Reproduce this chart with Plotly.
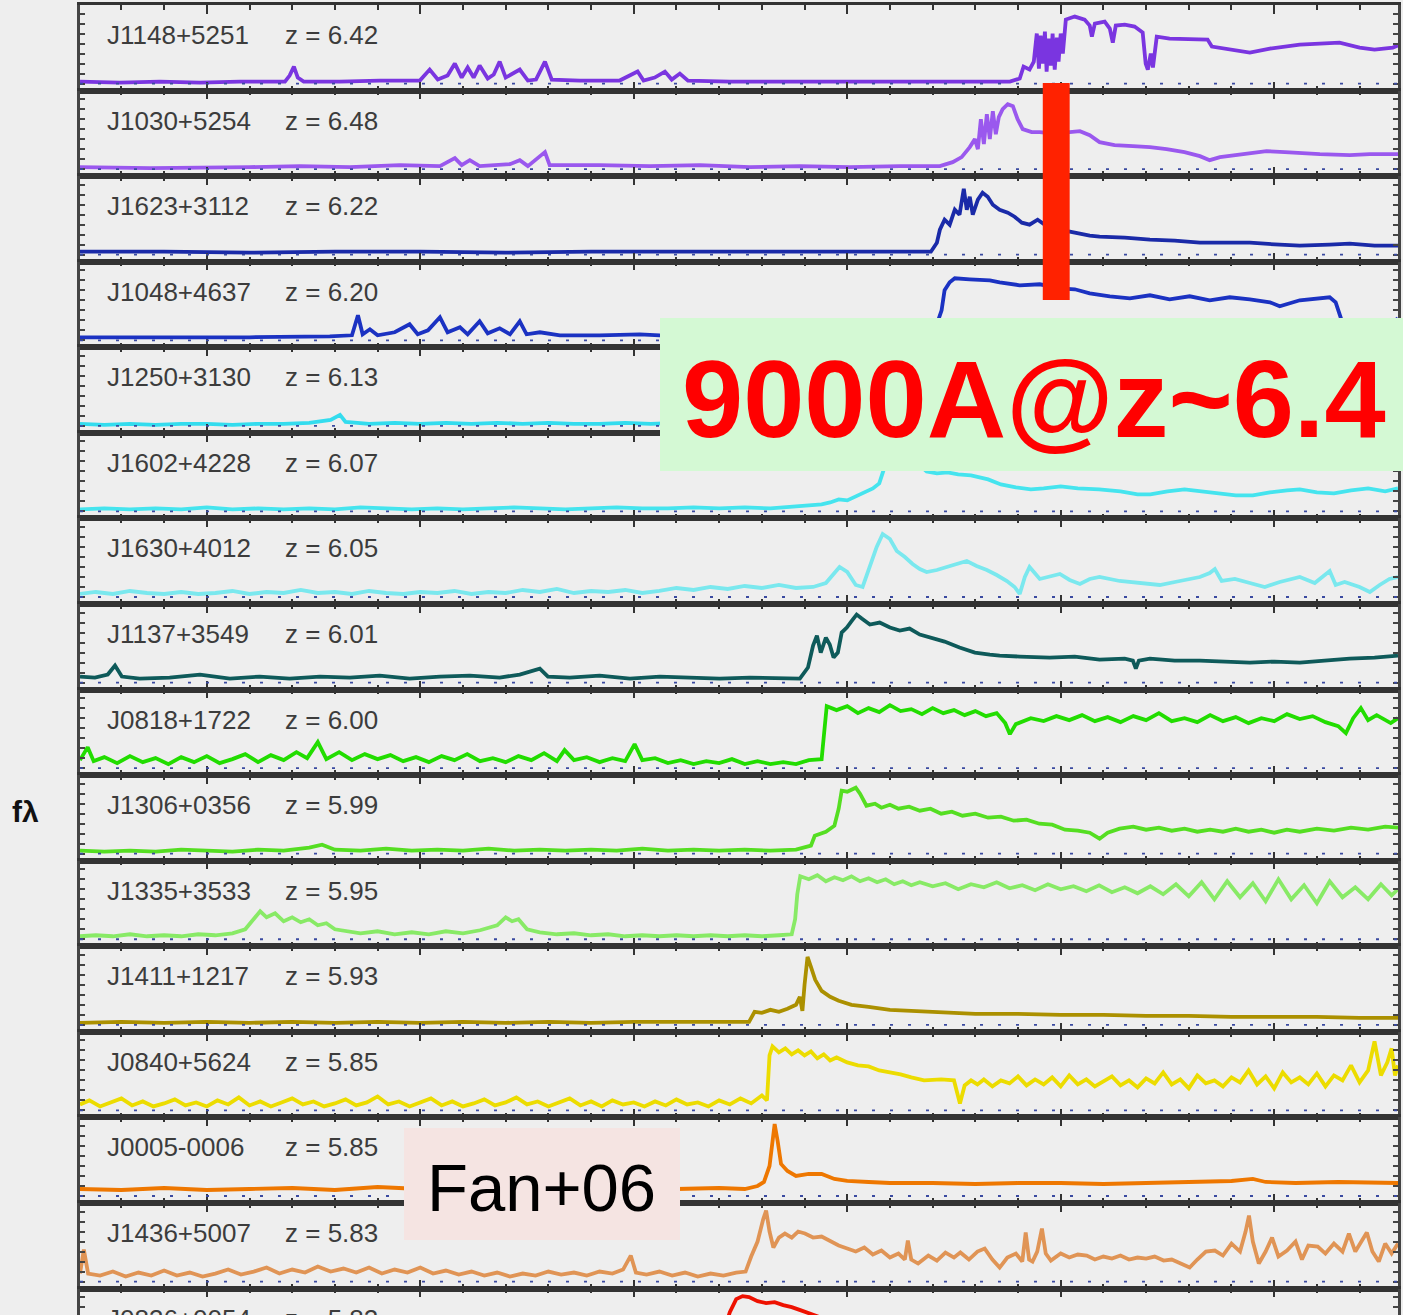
import plotly.graph_objects as go

# ---------------- data ----------------
NAMES = ["J1148+5251", "J1030+5254", "J1623+3112", "J1048+4637", "J1250+3130",
         "J1602+4228", "J1630+4012", "J1137+3549", "J0818+1722", "J1306+0356",
         "J1335+3533", "J1411+1217", "J0840+5624", "J0005-0006", "J1436+5007",
         "J0836+0054"]
REDSHIFTS = ["6.42", "6.48", "6.22", "6.20", "6.13", "6.07", "6.05", "6.01", "6.00",
             "5.99", "5.95", "5.93", "5.85", "5.85", "5.83", "5.82"]
COLORS = ["#7a35e0", "#9a58ee", "#1a2aa8", "#1b32c2", "#33dcee", "#45e4ee", "#7ae8ee",
          "#0e5a5a", "#22dd00", "#55de22", "#88ea66", "#ab9000", "#ecdc00", "#ee7700",
          "#e09455", "#ee1100"]

SPEC_J1148 = [(6703,2),(6796,1),(6890,2),(6984,1),(7077,2),(7183,2),(7194,8),(7204,17),(7213,6),(7227,2),
              (7311,2),(7405,3),(7499,3),(7522,14),(7541,4),(7564,8),(7581,20),(7597,6),(7611,16),(7625,6),
              (7639,18),(7658,5),(7672,9),(7686,22),(7700,6),(7719,10),(7733,14),(7752,3),(7771,4),(7792,22),
              (7808,4),(7874,3),(7967,3),(8009,12),(8023,3),(8049,6),(8073,12),(8089,4),(8108,10),(8127,3),
              (8225,2),(8389,2),(8576,2),(8740,2),(8881,2),(8904,5),(8913,17),(8927,14),(8937,22),(8944,50),
              (8949,15),(8953,48),(8958,20),(8963,52),(8967,12),(8972,45),(8977,18),(8981,50),(8986,14),(8991,46),
              (8995,22),(9000,50),(9005,30),(9012,64),(9033,67),(9056,64),(9068,58),(9073,47),(9080,60),(9103,62),
              (9115,55),(9122,41),(9129,58),(9150,59),(9173,57),(9192,51),(9199,20),(9204,14),(9211,30),(9216,16),
              (9225,47),(9255,45),(9302,44),(9344,44),(9354,37),(9396,34),(9443,31),(9490,35),(9560,39),(9607,40),
              (9653,41),(9700,36),(9735,34),(9778,36),(9790,38)]
SPEC_J1030 = [(6703,2),(6867,1),(7101,2),(7218,3),(7335,2),(7452,4),(7546,3),(7581,11),(7597,4),(7616,9),
              (7639,3),(7710,5),(7733,9),(7752,3),(7792,17),(7803,4),(7920,4),(8038,3),(8155,4),(8272,2),
              (8389,3),(8506,2),(8623,3),(8717,3),(8747,7),(8768,12),(8787,22),(8799,30),(8806,20),(8813,50),
              (8820,25),(8827,55),(8834,30),(8841,58),(8848,35),(8855,52),(8864,60),(8876,65),(8888,63),(8899,50),
              (8911,40),(8932,37),(8951,37),(8974,36),(8998,37),(9021,37),(9045,38),(9068,34),(9091,27),(9126,24),
              (9169,23),(9209,22),(9248,20),(9290,17),(9326,13),(9349,9),(9373,12),(9408,14),(9443,16),(9482,18),
              (9525,17),(9560,16),(9607,15),(9677,14),(9724,15),(9790,15)]
SPEC_J1623 = [(6703,3),(6900,3),(7100,2),(7300,3),(7500,3),(7700,2),(7900,3),(8100,3),(8300,3),(8500,3),
              (8696,3),(8710,12),(8717,25),(8728,35),(8740,30),(8752,45),(8763,40),(8773,66),(8780,45),(8787,58),
              (8794,40),(8806,55),(8817,62),(8829,58),(8841,50),(8857,45),(8876,42),(8892,38),(8909,32),(8927,30),
              (8946,35),(8963,30),(8998,25),(9033,22),(9068,19),(9091,18),(9150,17),(9209,15),(9267,14),(9326,12),
              (9443,12),(9513,10),(9560,9),(9630,10),(9677,11),(9735,9),(9790,9)]
SPEC_J1048 = [(6703,3),(6870,3),(7100,3),(7288,4),(7340,5),(7354,25),(7365,6),(7382,11),(7400,5),(7440,8),
              (7475,16),(7494,6),(7518,10),(7546,23),(7564,8),(7593,13),(7611,6),(7639,19),(7658,7),(7686,12),
              (7710,6),(7733,19),(7749,6),(7780,8),(7827,5),(7920,5),(8014,6),(8061,5),(8155,4),(8389,4),
              (8576,4),(8670,5),(8705,10),(8721,30),(8728,50),(8740,58),(8752,62),(8787,61),(8834,60),(8857,58),
              (8904,55),(8951,56),(8998,52),(9033,51),(9068,47),(9115,44),(9162,42),(9209,45),(9255,41),(9302,44),
              (9349,40),(9396,43),(9443,41),(9490,38),(9513,34),(9560,40),(9607,42),(9630,43),(9644,38),(9658,20),
              (9677,8),(9724,10),(9770,15),(9790,22)]
SPEC_J1250 = [(6703,2),(6760,1),(6820,2),(6880,1),(6940,2),(7000,2),(7060,1),(7120,2),(7180,2),(7240,3),
              (7290,6),(7312,11),(7325,4),(7380,2),(7440,3),(7500,2),(7560,3),(7620,2),(7680,3),(7740,2),
              (7800,3),(7860,2),(7920,2),(7980,3),(8040,2),(8100,3),(8200,3),(8300,4),(8400,4),(8500,5),
              (8600,8),(8650,20),(8680,55),(8700,60),(8750,48),(8800,40),(8900,35),(9000,30),(9200,27),(9400,25),
              (9600,26),(9790,25)]
SPEC_J1602 = [(6703,2),(6760,3),(6820,2),(6880,3),(6940,2),(7000,4),(7060,2),(7120,3),(7180,2),(7240,3),
              (7300,2),(7360,4),(7420,3),(7480,2),(7540,3),(7600,2),(7660,3),(7720,4),(7780,3),(7840,2),
              (7900,3),(7960,4),(8020,3),(8080,3),(8140,4),(8200,3),(8260,4),(8320,3),(8380,5),(8420,6),
              (8440,7),(8460,9),(8480,12),(8500,11),(8520,15),(8540,18),(8560,23),(8575,28),(8588,45),(8600,65),
              (8615,70),(8635,60),(8660,50),(8686,40),(8710,38),(8735,39),(8760,37),(8790,36),(8830,32),(8860,27),
              (8895,24),(8930,22),(8960,23),(9000,25),(9040,23),(9090,22),(9140,20),(9180,17),(9210,17),(9250,20),
              (9290,22),(9330,20),(9370,18),(9410,16),(9450,16),(9490,19),(9530,21),(9560,22),(9600,19),(9640,18),
              (9680,21),(9720,23),(9760,20),(9790,23)]
SPEC_J1630 = [(6703,3),(6740,5),(6780,3),(6820,6),(6860,4),(6900,3),(6940,5),(6980,3),(7020,4),(7060,6),
              (7100,3),(7140,5),(7180,4),(7220,7),(7260,4),(7300,5),(7340,3),(7380,6),(7420,4),(7460,3),
              (7500,5),(7540,4),(7580,6),(7620,3),(7660,5),(7700,4),(7740,7),(7780,5),(7820,8),(7860,4),
              (7900,6),(7940,5),(7980,7),(8020,4),(8060,6),(8100,9),(8140,7),(8180,10),(8220,8),(8260,11),
              (8300,9),(8340,12),(8380,9),(8420,10),(8450,14),(8482,30),(8500,25),(8520,12),(8536,10),(8553,30),
              (8569,50),(8583,63),(8600,58),(8616,46),(8635,40),(8653,33),(8670,28),(8686,25),(8710,27),(8733,30),
              (8756,33),(8780,36),(8803,31),(8827,27),(8850,22),(8874,16),(8892,10),(8904,3),(8916,20),(8927,30),
              (8951,18),(8974,20),(8998,23),(9021,17),(9045,13),(9068,18),(9091,20),(9138,16),(9185,14),(9232,12),
              (9279,16),(9326,20),(9349,24),(9361,28),(9377,16),(9408,18),(9443,14),(9478,10),(9513,15),(9560,20),
              (9595,14),(9630,26),(9644,12),(9665,15),(9700,10),(9724,5),(9747,12),(9770,18),(9790,20)]
SPEC_J1137 = [(6703,6),(6738,5),(6768,8),(6785,17),(6801,6),(6843,4),(6913,5),(6984,8),(7054,4),(7124,6),
              (7194,4),(7265,6),(7335,5),(7405,7),(7475,4),(7546,6),(7616,7),(7686,5),(7733,8),(7780,14),
              (7799,6),(7850,5),(7920,7),(7991,4),(8061,6),(8131,5),(8201,4),(8272,5),(8342,4),(8389,4),
              (8408,15),(8420,37),(8429,47),(8438,30),(8450,45),(8459,38),(8468,25),(8478,30),(8487,50),(8499,55),
              (8511,62),(8522,68),(8534,64),(8553,58),(8576,60),(8600,55),(8623,52),(8646,54),(8670,48),(8693,45),
              (8728,41),(8763,35),(8799,30),(8834,28),(8857,27),(8904,26),(8974,25),(9033,26),(9091,23),(9150,24),
              (9169,22),(9176,14),(9183,22),(9209,24),(9267,22),(9326,22),(9384,21),(9443,20),(9501,21),(9560,20),
              (9618,22),(9677,24),(9735,25),(9790,27)]
SPEC_J0818 = [(6703,8),(6721,21),(6735,7),(6760,11),(6790,5),(6820,12),(6850,6),(6880,10),(6910,4),(6940,11),
              (6970,6),(7000,12),(7030,5),(7060,9),(7090,14),(7120,6),(7150,13),(7180,8),(7210,16),(7235,10),
              (7260,26),(7280,9),(7310,16),(7340,8),(7370,14),(7400,9),(7430,13),(7460,7),(7490,11),(7520,6),
              (7550,12),(7580,8),(7610,14),(7640,7),(7670,10),(7700,6),(7730,12),(7760,8),(7790,15),(7820,7),
              (7838,18),(7860,8),(7890,11),(7920,6),(7950,10),(7980,7),(8002,24),(8020,8),(8050,10),(8080,5),
              (8110,8),(8140,4),(8170,7),(8200,5),(8230,9),(8260,4),(8290,7),(8320,4),(8350,6),(8380,4),
              (8410,8),(8440,9),(8447,40),(8452,62),(8475,58),(8500,62),(8525,55),(8550,60),(8575,56),(8600,63),
              (8625,57),(8650,59),(8675,54),(8700,60),(8725,55),(8750,58),(8775,53),(8800,57),(8825,52),(8850,55),
              (8870,45),(8881,34),(8895,44),(8930,50),(8960,47),(8990,52),(9020,48),(9050,53),(9080,47),(9110,51),
              (9140,46),(9170,52),(9200,48),(9230,55),(9260,47),(9290,50),(9320,46),(9350,53),(9380,47),(9410,51),
              (9440,45),(9470,50),(9500,47),(9530,54),(9560,49),(9590,52),(9620,46),(9650,42),(9668,35),(9685,50),
              (9703,60),(9720,48),(9740,53),(9773,45),(9790,50)]
SPEC_J1306 = [(6703,3),(6760,2),(6820,3),(6880,2),(6940,4),(7000,3),(7060,2),(7120,4),(7180,3),(7240,6),
              (7270,9),(7300,4),(7360,3),(7420,5),(7480,3),(7540,4),(7600,3),(7660,5),(7720,3),(7780,4),
              (7840,3),(7900,4),(7960,3),(8020,5),(8080,3),(8140,4),(8200,3),(8260,4),(8320,3),(8380,4),
              (8415,8),(8424,18),(8450,22),(8470,28),(8480,45),(8487,63),(8500,62),(8520,66),(8530,60),(8545,48),
              (8565,50),(8580,46),(8600,49),(8620,45),(8645,47),(8670,43),(8695,45),(8720,40),(8745,42),(8770,38),
              (8800,40),(8830,36),(8860,37),(8890,33),(8920,34),(8950,30),(8980,29),(9010,24),(9040,23),(9068,21),
              (9091,15),(9110,21),(9138,25),(9170,27),(9200,24),(9230,26),(9260,23),(9290,25),(9320,22),(9350,24),
              (9380,22),(9410,25),(9440,22),(9470,24),(9500,21),(9530,24),(9560,22),(9600,25),(9640,23),(9680,26),
              (9720,24),(9760,27),(9790,26)]
SPEC_J1335 = [(6703,3),(6740,4),(6780,3),(6820,5),(6860,3),(6900,4),(6940,3),(6980,5),(7020,4),(7060,6),
              (7090,10),(7110,20),(7125,28),(7140,22),(7160,26),(7180,18),(7200,22),(7220,17),(7240,20),(7260,14),
              (7280,16),(7300,10),(7330,8),(7360,6),(7400,8),(7440,5),(7480,7),(7520,5),(7560,8),(7600,6),
              (7640,9),(7680,14),(7700,22),(7715,18),(7730,20),(7750,10),(7780,7),(7820,5),(7860,6),(7900,4),
              (7940,5),(7980,3),(8020,4),(8060,3),(8100,4),(8140,3),(8180,4),(8220,3),(8260,4),(8300,3),
              (8340,4),(8370,5),(8378,20),(8383,45),(8390,63),(8410,60),(8430,64),(8450,58),(8470,62),(8490,59),
              (8510,63),(8530,58),(8550,61),(8570,57),(8590,60),(8610,55),(8630,58),(8650,54),(8670,57),(8700,53),
              (8730,56),(8760,50),(8790,55),(8820,52),(8850,57),(8880,51),(8910,54),(8940,49),(8970,55),(9000,50),
              (9030,53),(9060,48),(9090,54),(9120,47),(9150,52),(9180,46),(9210,53),(9240,45),(9270,55),(9300,43),
              (9330,57),(9360,40),(9390,58),(9420,42),(9450,56),(9480,38),(9510,60),(9540,40),(9570,54),(9600,36),
              (9630,58),(9660,42),(9690,52),(9720,40),(9750,55),(9775,44),(9790,50)]
SPEC_J1411 = [(6703,2),(6800,3),(6900,2),(7000,3),(7100,2),(7200,3),(7300,2),(7400,3),(7500,2),(7600,3),
              (7700,2),(7800,3),(7900,2),(8000,3),(8100,3),(8200,3),(8270,3),(8283,13),(8300,12),(8320,15),
              (8340,13),(8360,16),(8380,20),(8389,28),(8395,14),(8400,40),(8407,68),(8415,58),(8425,45),(8440,34),
              (8460,28),(8480,24),(8510,20),(8550,18),(8600,15),(8650,14),(8700,13),(8750,12),(8800,11),(8900,11),
              (9000,10),(9100,10),(9200,9),(9300,9),(9400,8),(9500,8),(9600,8),(9700,7),(9790,7)]
SPEC_J0840 = [(6703,6),(6725,10),(6750,4),(6775,8),(6800,12),(6825,5),(6850,9),(6875,4),(6900,7),(6925,11),
              (6950,5),(6975,8),(7000,4),(7025,10),(7050,6),(7075,13),(7100,5),(7125,9),(7150,4),(7175,8),
              (7200,12),(7225,6),(7250,9),(7275,4),(7300,7),(7325,11),(7350,5),(7375,8),(7400,14),(7425,6),
              (7450,9),(7475,4),(7500,8),(7525,12),(7550,5),(7575,9),(7600,4),(7625,7),(7650,11),(7675,5),
              (7700,8),(7725,13),(7750,6),(7775,9),(7800,4),(7825,8),(7850,12),(7875,5),(7900,9),(7925,4),
              (7950,10),(7975,6),(8000,8),(8025,4),(8050,9),(8075,5),(8100,11),(8125,6),(8150,8),(8175,4),
              (8200,10),(8225,6),(8250,12),(8275,7),(8300,15),(8312,10),(8318,55),(8325,64),(8340,58),(8355,62),
              (8370,56),(8385,60),(8400,55),(8415,59),(8430,52),(8445,56),(8460,50),(8475,53),(8500,48),(8525,45),
              (8550,44),(8575,40),(8600,38),(8625,36),(8650,33),(8680,30),(8720,31),(8750,30),(8764,7),(8775,25),
              (8790,30),(8805,26),(8820,31),(8840,24),(8860,30),(8880,27),(8900,34),(8920,25),(8940,31),(8960,26),
              (8980,33),(9000,24),(9020,35),(9040,26),(9060,31),(9080,24),(9100,29),(9120,34),(9140,25),(9160,30),
              (9180,23),(9200,32),(9220,27),(9240,38),(9260,26),(9280,31),(9300,22),(9320,35),(9340,27),(9360,30),
              (9380,24),(9400,33),(9420,28),(9440,40),(9460,26),(9480,34),(9500,22),(9520,38),(9540,28),(9560,33),
              (9580,26),(9600,37),(9620,24),(9640,35),(9660,30),(9680,45),(9700,28),(9720,40),(9735,69),(9750,35),
              (9765,48),(9775,62),(9783,35),(9790,45)]
SPEC_J0005 = [(6703,7),(6800,6),(6900,8),(7000,6),(7100,7),(7200,8),(7300,6),(7400,9),(7500,7),(7600,6),
              (7700,8),(7800,7),(7900,6),(8000,8),(8100,7),(8200,8),(8260,7),(8290,10),(8305,14),(8318,30),
              (8330,72),(8337,55),(8345,32),(8360,25),(8380,20),(8410,22),(8440,22),(8470,17),(8500,15),(8550,14),
              (8600,13),(8700,13),(8800,12),(8900,13),(9000,13),(9100,12),(9200,13),(9300,14),(9400,15),(9450,17),
              (9480,14),(9550,13),(9650,14),(9790,13)]
SPEC_J1436 = [(6703,8),(6712,32),(6722,8),(6750,6),(6780,10),(6810,5),(6840,9),(6870,6),(6900,11),(6930,6),
              (6960,9),(6990,5),(7020,8),(7050,12),(7080,7),(7110,10),(7140,14),(7170,8),(7200,12),(7230,9),
              (7260,15),(7290,10),(7320,13),(7350,9),(7380,14),(7410,8),(7440,12),(7470,9),(7500,14),(7530,8),
              (7560,11),(7590,7),(7620,10),(7650,6),(7680,9),(7710,5),(7740,8),(7770,6),(7800,10),(7830,7),
              (7860,9),(7890,6),(7920,10),(7950,8),(7975,12),(7993,26),(8005,9),(8030,7),(8060,10),(8090,6),
              (8120,9),(8150,5),(8180,8),(8210,6),(8240,9),(8262,10),(8275,25),(8290,40),(8303,62),(8310,71),
              (8318,50),(8327,34),(8340,44),(8354,48),(8370,44),(8385,50),(8401,48),(8420,44),(8440,45),(8462,40),
              (8480,36),(8500,33),(8520,30),(8540,34),(8560,27),(8580,31),(8600,24),(8620,28),(8635,22),(8642,41),
              (8650,22),(8666,18),(8690,26),(8710,21),(8730,29),(8750,24),(8765,29),(8785,22),(8805,30),(8822,33),
              (8840,22),(8857,14),(8875,24),(8895,28),(8910,20),(8918,49),(8926,22),(8934,20),(8945,30),(8956,53),
              (8965,28),(8977,21),(9000,28),(9020,24),(9040,27),(9061,26),(9080,22),(9100,25),(9120,23),(9140,26),
              (9160,22),(9180,24),(9200,23),(9220,25),(9241,21),(9260,22),(9280,18),(9302,14),(9320,22),(9340,30),
              (9361,31),(9380,26),(9400,38),(9420,30),(9433,50),(9441,66),(9450,40),(9464,18),(9480,30),(9495,44),
              (9510,25),(9530,31),(9550,40),(9565,22),(9580,36),(9602,35),(9620,28),(9640,38),(9660,30),(9675,48),
              (9690,30),(9705,40),(9717,49),(9730,30),(9745,20),(9760,38),(9775,28),(9790,38)]
SPEC_J0836 = [(6703,4),(6900,3),(7100,4),(7300,3),(7500,4),(7700,3),(7900,4),(8100,5),(8180,8),(8200,20),
              (8225,55),(8240,68),(8255,71),(8270,70),(8290,66),(8310,64),(8330,65),(8350,62),(8370,60),(8390,57),
              (8420,52),(8450,46),(8500,40),(8600,36),(8800,33),(9000,31),(9300,30),(9600,29),(9790,30)]

SPECTRA = [SPEC_J1148, SPEC_J1030, SPEC_J1623, SPEC_J1048, SPEC_J1250, SPEC_J1602, SPEC_J1630,
           SPEC_J1137, SPEC_J0818, SPEC_J1306, SPEC_J1335, SPEC_J1411, SPEC_J0840, SPEC_J0005,
           SPEC_J1436, SPEC_J0836]

X_RANGE = [6703, 9790]
BAR_LAMBDA = [8958, 9021]
BIG_LABEL = "9000A@z~6.4"
REF_LABEL = "Fan+06"
Y_LABEL = "fλ"

# ---------------- layout ----------------
W, H = 1403, 1315
ML, MR, MT, MB = 80, 5, 5, 0
PH = H - MT - MB
PANEL = 85.57
ZERO_OFF = 7.0
FONT = "Liberation Sans, Arial, Helvetica, sans-serif"
AXC = "#333333"

fig = go.Figure()
layout = {}
shapes = []
annotations = []

n = len(SPECTRA)
for i in range(n):
    k = i + 1
    sfx = "" if k == 1 else str(k)
    top = i * PANEL
    bot = min((i + 1) * PANEL, PH)
    dom = [max(0.0, 1 - bot / PH), 1 - top / PH]
    ymax = PANEL - ZERO_OFF
    ymin = ymax - (bot - top)
    wave = [p[0] for p in SPECTRA[i]]
    flux = [p[1] for p in SPECTRA[i]]
    fig.add_trace(go.Scatter(x=wave, y=flux, mode="lines",
                             line=dict(color=COLORS[i], width=3.8),
                             xaxis="x" + sfx, yaxis="y" + sfx,
                             showlegend=False, hoverinfo="skip"))
    last = (k == n)
    layout["xaxis" + sfx] = dict(
        domain=[0, 1], anchor="y" + sfx, range=X_RANGE,
        showline=True, linecolor=AXC, linewidth=2.5,
        mirror=False if last else "allticks",
        side="top" if last else "bottom",
        ticks="inside", ticklen=9, tickwidth=2, tickcolor=AXC,
        tick0=7000, dtick=500, showticklabels=False,
        showgrid=False, zeroline=False,
        minor=dict(tick0=7000, dtick=100, ticks="inside", ticklen=5,
                   tickwidth=2, tickcolor=AXC, showgrid=False),
    )
    layout["yaxis" + sfx] = dict(
        domain=dom, anchor="x" + sfx, range=[ymin, ymax],
        showline=True, linecolor="#444444", linewidth=2.5, mirror="allticks",
        ticks="inside", ticklen=5, tickwidth=1.5, tickcolor="#444444",
        tick0=0, dtick=10, showticklabels=False,
        showgrid=False, zeroline=False,
    )
    if not last:
        shapes.append(dict(type="line", xref="x" + sfx + " domain", yref="y" + sfx,
                           x0=0, x1=1, y0=0, y1=0, layer="above",
                           line=dict(color="#3a4aa0", width=1.8, dash="3px,15px")))
    ylab = (H - (MT + top + 30)) / PH - MB / PH
    annotations.append(dict(text=NAMES[i], xref="paper", yref="paper",
                            x=(105 - ML) / (W - ML - MR), y=ylab,
                            xanchor="left", yanchor="middle", showarrow=False,
                            font=dict(family=FONT, size=26, color="#3c3c3c")))
    annotations.append(dict(text="z = " + REDSHIFTS[i], xref="paper", yref="paper",
                            x=(283 - ML) / (W - ML - MR), y=ylab,
                            xanchor="left", yanchor="middle", showarrow=False,
                            font=dict(family=FONT, size=26, color="#3c3c3c")))

PW = W - ML - MR

def px_x(p):
    return (p - ML) / PW

def px_y(p):
    return (H - MB - p) / PH

# red marker bar
shapes.append(dict(type="rect", xref="x", yref="paper",
                   x0=BAR_LAMBDA[0], x1=BAR_LAMBDA[1], y0=px_y(300), y1=px_y(83),
                   fillcolor="#ff2200", line=dict(width=0), layer="above"))
# green label box
shapes.append(dict(type="rect", xref="paper", yref="paper",
                   x0=px_x(660), x1=px_x(1403), y0=px_y(471), y1=px_y(318),
                   fillcolor="#d4f9d4", line=dict(width=0), layer="above"))
annotations.append(dict(text=BIG_LABEL, xref="paper", yref="paper",
                        x=px_x(1034), y=px_y(398), xanchor="center", yanchor="middle",
                        showarrow=False,
                        font=dict(family=FONT, size=110, color="#ff0000", weight="bold")))
# pink reference box
shapes.append(dict(type="rect", xref="paper", yref="paper",
                   x0=px_x(404), x1=px_x(680), y0=px_y(1240), y1=px_y(1128),
                   fillcolor="#f5e4e2", line=dict(width=0), layer="above"))
annotations.append(dict(text=REF_LABEL, xref="paper", yref="paper",
                        x=px_x(541), y=px_y(1187), xanchor="center", yanchor="middle",
                        showarrow=False,
                        font=dict(family=FONT, size=67, color="#000000")))
# y label
annotations.append(dict(text=Y_LABEL, xref="paper", yref="paper",
                        x=px_x(25), y=px_y(811), xanchor="center", yanchor="middle",
                        showarrow=False,
                        font=dict(family=FONT, size=30, color="#111111", weight="bold")))

fig.update_layout(
    width=W, height=H,
    margin=dict(l=ML, r=MR, t=MT, b=MB, pad=0),
    paper_bgcolor="#eeeeee", plot_bgcolor="#eeeeee",
    shapes=shapes, annotations=annotations, showlegend=False,
    **layout,
)

fig.write_html("out.html")
